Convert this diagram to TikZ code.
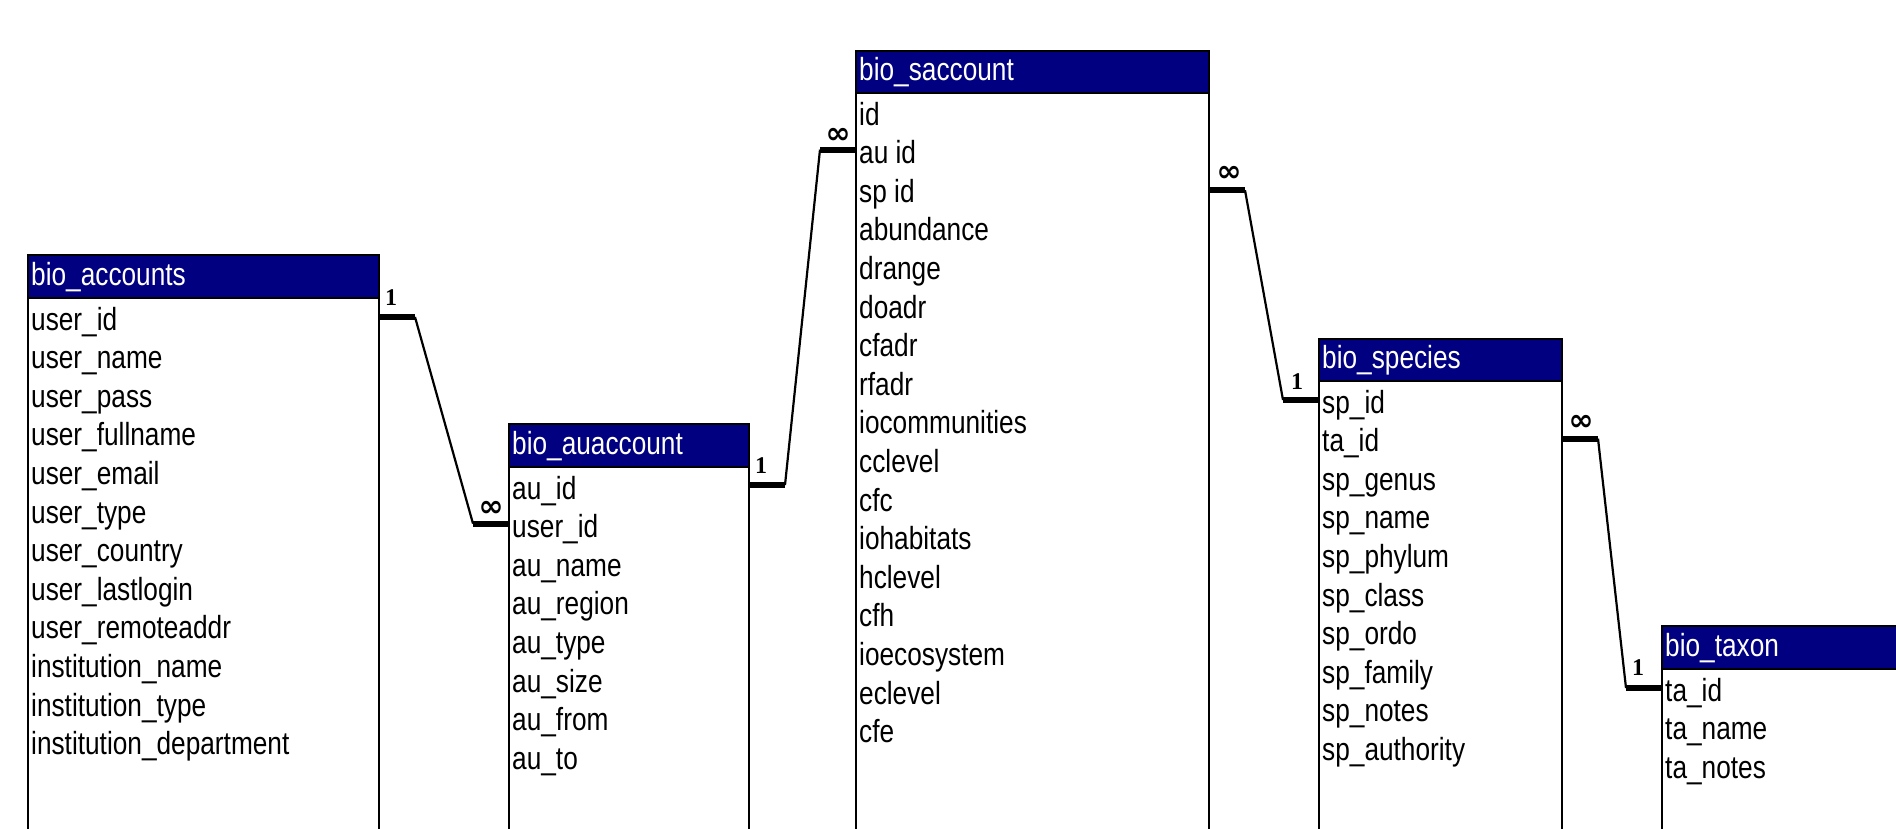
\documentclass[tikz,border=0pt]{standalone}
\usepackage{fontspec}
\setmainfont{Liberation Sans}
\newfontfamily\fieldfont[FakeStretch=0.82]{Liberation Sans}
\newfontfamily\cardfont{Liberation Serif}
\newfontfamily\symfont{DejaVu Sans}
\usetikzlibrary{calc}
\definecolor{hdrblue}{RGB}{0,0,128}

\tikzset{
  tbody/.style={draw=black, line width=1.8pt, fill=white, anchor=north west,
    inner sep=0pt, outer sep=0pt},
  thead/.style={draw=black, line width=1.8pt, fill=hdrblue, anchor=south west,
    inner sep=0pt, outer sep=0pt},
  htext/.style={anchor=base west, inner sep=0pt, text=white,
    font=\fieldfont\fontsize{32}{36}\selectfont},
  ftext/.style={anchor=base west, inner sep=0pt,
    font=\fieldfont\fontsize{32}{36}\selectfont},
  rel/.style={line width=2.2pt},
  relend/.style={line width=6pt},
  one/.style={font=\cardfont\bfseries\fontsize{24}{24}\selectfont, inner sep=0pt},
  many/.style={font=\symfont\bfseries\fontsize{30}{30}\selectfont, inner sep=0pt},
}

% #1 name, #2 left, #3 right, #4 header top, #5 header bottom, #6 title, #7 fields
\newcommand\ertable[7]{%
  \pgfmathsetmacro\tblw{#3-#2}%
  \pgfmathsetmacro\tblh{#5-#4}%
  \pgfmathsetmacro\bodyh{900-#5}%
  \node[tbody, minimum width=\tblw pt, minimum height=\bodyh pt] (#1) at (#2,#5) {};
  \node[thead, minimum width=\tblw pt, minimum height=\tblh pt] (#1-h) at (#2,#5) {};
  \node[htext] (#1-t) at ({#2+3},{#5-13}) {#6};
  \foreach \f [count=\i] in {#7} {
    \node[ftext] (#1-\i) at ({#2+3},{#5+32+(\i-1)*38.6}) {\f};
  }%
}

\begin{document}
\begin{tikzpicture}[x=1pt, y=-1pt]
  \useasboundingbox (0,0) rectangle (1896,828);
  \fill[white] (0,0) rectangle (1896,828);
  \clip (0,0) rectangle (1896,828);

  \ertable{acc}{28}{379}{255}{298}{bio\_accounts}{user\_id, user\_name, user\_pass,
    user\_fullname, user\_email, user\_type, user\_country, user\_lastlogin,
    user\_remoteaddr, institution\_name, institution\_type, institution\_department}
  \ertable{au}{509}{749}{424}{467}{bio\_auaccount}{au\_id, user\_id, au\_name,
    au\_region, au\_type, au\_size, au\_from, au\_to}
  \ertable{sa}{856}{1209}{51}{93}{bio\_saccount}{id, au id, sp id, abundance, drange,
    doadr, cfadr, rfadr, iocommunities, cclevel, cfc, iohabitats, hclevel, cfh,
    ioecosystem, eclevel, cfe}
  \ertable{sp}{1319}{1562}{339}{381}{bio\_species}{sp\_id, ta\_id, sp\_genus, sp\_name,
    sp\_phylum, sp\_class, sp\_ordo, sp\_family, sp\_notes, sp\_authority}
  \ertable{ta}{1662}{1960}{626}{669}{bio\_taxon}{ta\_id, ta\_name, ta\_notes}

  % relationship end points on the table borders
  \coordinate (r1s) at ($(acc.east |- acc-1.base)+(0,-13)$);
  \coordinate (r1e) at ($(au.west |- au-2.base)+(0,-14)$);
  \coordinate (r2s) at ($(au.east |- au-1.base)+(0,-14)$);
  \coordinate (r2e) at ($(sa.west |- sa-2.base)+(0,-14)$);
  \coordinate (r3s) at ($(sa.east |- sa-3.base)+(0,-12)$);
  \coordinate (r3e) at ($(sp.west |- sp-1.base)+(0,-13)$);
  \coordinate (r4s) at ($(sp.east |- sp-2.base)+(0,-13)$);
  \coordinate (r4e) at ($(ta.west |- ta-1.base)+(0,-13)$);

  % relationship lines: thick stubs at both tables, thin link between
  \foreach \r in {1,2,3,4} {
    \draw[relend] (r\r s) -- ++(36,0) coordinate (r\r a);
    \draw[relend] (r\r e) -- ++(-36,0) coordinate (r\r b);
    \draw[rel] (r\r a) -- (r\r b);
  }

  % cardinality labels
  \node[one]  (k1a) at ($(r1s)+(12,-19)$) {1};
  \node[many] (k1b) at ($(r1e)+(-18,-15)$) {∞};
  \node[one]  (k2a) at ($(r2s)+(12,-19)$) {1};
  \node[many] (k2b) at ($(r2e)+(-18,-14)$) {∞};
  \node[many] (k3a) at ($(r3s)+(20,-16)$) {∞};
  \node[one]  (k3b) at ($(r3e)+(-22,-18)$) {1};
  \node[many] (k4a) at ($(r4s)+(19,-16)$) {∞};
  \node[one]  (k4b) at ($(r4e)+(-24,-20)$) {1};
\end{tikzpicture}
\end{document}
